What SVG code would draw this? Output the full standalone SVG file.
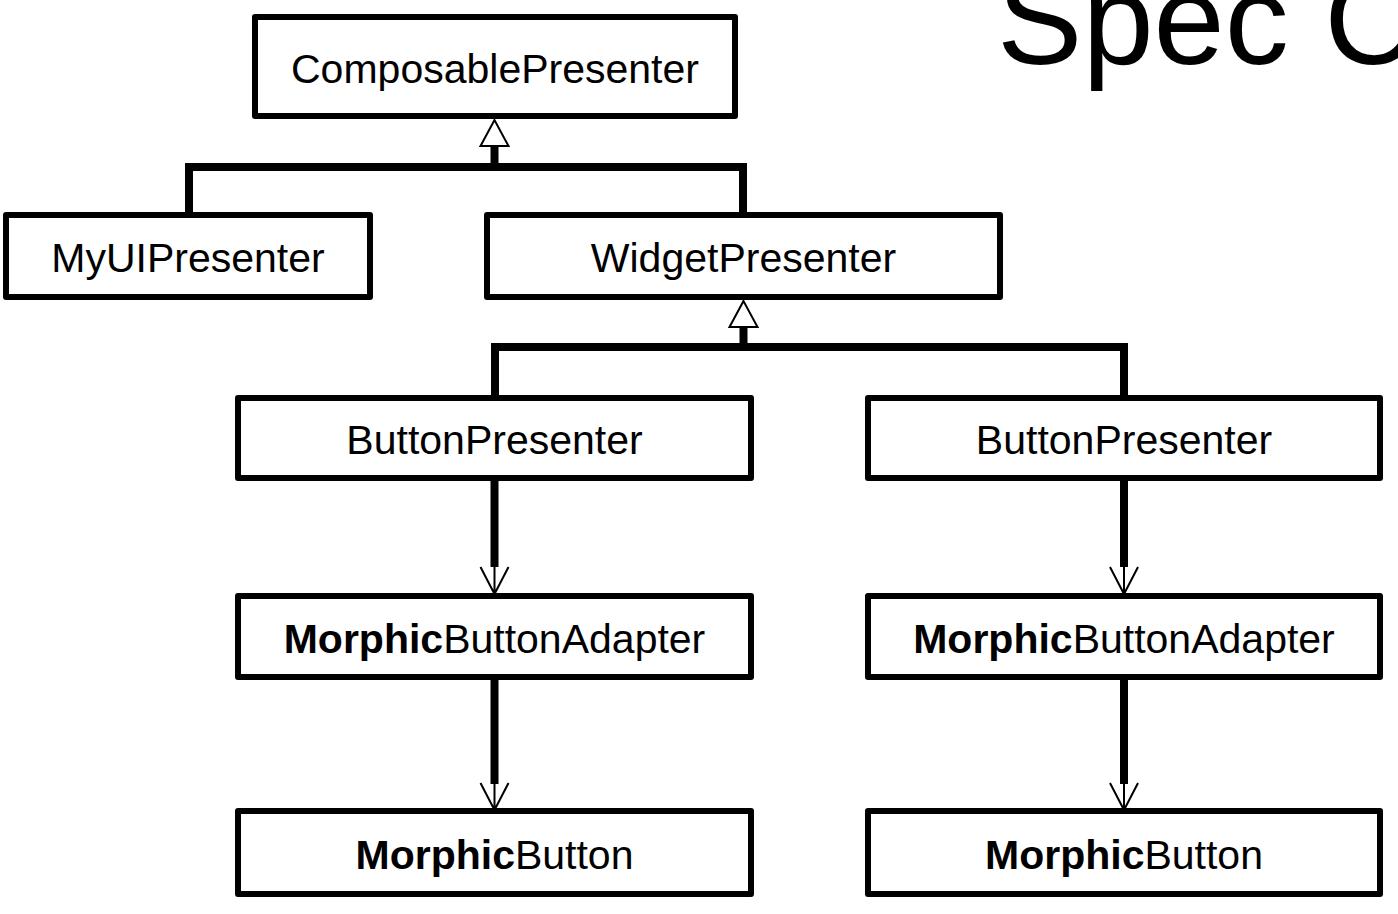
<svg xmlns="http://www.w3.org/2000/svg" width="1398" height="914" viewBox="0 0 1398 914">
<style>
.box{fill:#fff;stroke:#000;stroke-width:6;stroke-linejoin:round}
.lbl{font-family:"Liberation Sans",Arial,sans-serif;font-size:41px;fill:#000;text-anchor:middle}
.b{font-weight:bold}
.thick{fill:none;stroke:#000;stroke-width:8;stroke-linejoin:miter}
.thin{fill:none;stroke:#000;stroke-width:2}
.tri{fill:#fff;stroke:#000;stroke-width:2;stroke-linejoin:miter}
.title{font-family:"Liberation Sans",Arial,sans-serif;font-size:128px;fill:#000}
</style>
<rect width="1398" height="914" fill="#fff"/>
<text class="title" x="997" y="64">Spec C</text>
<g id="connectors">
  <path class="thick" d="M189,215 V167 H743 V215"/>
  <path class="thick" d="M494.5,167 V145"/>
  <polygon class="tri" points="494.5,120 480.5,146 508.5,146"/>
  <path class="thick" d="M495,398 V347 H1124 V398"/>
  <path class="thick" d="M743.5,347 V326"/>
  <polygon class="tri" points="743.5,301 729.5,327 757.5,327"/>
  <path class="thick" d="M494.5,478 V567"/>
  <path class="thin" d="M494.5,566 V594 M480.5,567 L494.5,594 L508.5,567"/>
  <path class="thick" d="M494.5,677 V784"/>
  <path class="thin" d="M494.5,783 V810 M480.5,783 L494.5,810 L508.5,783"/>
  <path class="thick" d="M1124,478 V567"/>
  <path class="thin" d="M1124,566 V594 M1110,567 L1124,594 L1138,567"/>
  <path class="thick" d="M1124,677 V784"/>
  <path class="thin" d="M1124,783 V810 M1110,783 L1124,810 L1138,783"/>
</g>
<g id="composablePresenter">
  <rect class="box" x="255" y="17" width="480" height="99"/>
  <text class="lbl" x="495" y="83">ComposablePresenter</text>
</g>
<g id="myUIPresenter">
  <rect class="box" x="6" y="215" width="364" height="82"/>
  <text class="lbl" x="188" y="272">MyUIPresenter</text>
</g>
<g id="widgetPresenter">
  <rect class="box" x="487" y="215" width="513" height="82"/>
  <text class="lbl" x="743.5" y="272">WidgetPresenter</text>
</g>
<g id="buttonPresenterLeft">
  <rect class="box" x="238" y="398" width="513" height="80"/>
  <text class="lbl" x="494.5" y="454">ButtonPresenter</text>
</g>
<g id="buttonPresenterRight">
  <rect class="box" x="868" y="398" width="512" height="80"/>
  <text class="lbl" x="1124" y="454">ButtonPresenter</text>
</g>
<g id="morphicButtonAdapterLeft">
  <rect class="box" x="238" y="596" width="513" height="81"/>
  <text class="lbl" x="494.5" y="653"><tspan class="b">Morphic</tspan>ButtonAdapter</text>
</g>
<g id="morphicButtonAdapterRight">
  <rect class="box" x="868" y="596" width="512" height="81"/>
  <text class="lbl" x="1124" y="653"><tspan class="b">Morphic</tspan>ButtonAdapter</text>
</g>
<g id="morphicButtonLeft">
  <rect class="box" x="238" y="811" width="513" height="83"/>
  <text class="lbl" x="494.5" y="869"><tspan class="b">Morphic</tspan>Button</text>
</g>
<g id="morphicButtonRight">
  <rect class="box" x="868" y="811" width="512" height="83"/>
  <text class="lbl" x="1124" y="869"><tspan class="b">Morphic</tspan>Button</text>
</g>
</svg>
